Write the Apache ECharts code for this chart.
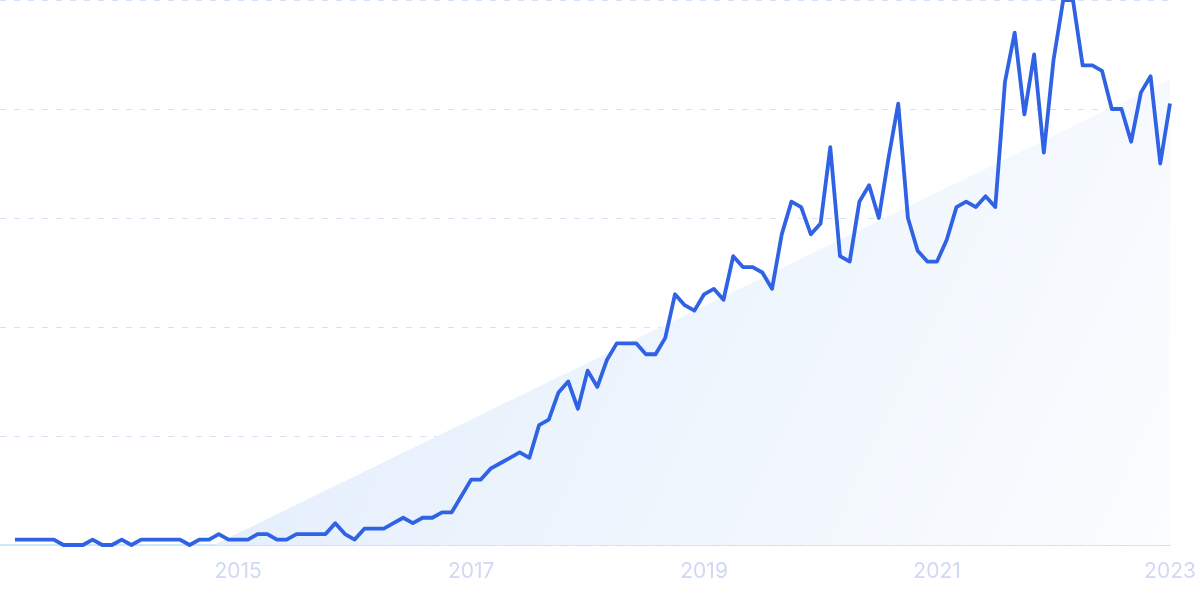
<!DOCTYPE html>
<html>
<head>
<meta charset="utf-8">
<script src="https://cdn.jsdelivr.net/npm/echarts@6/dist/echarts.min.js"></script>
<style>
html,body{margin:0;padding:0;background:#fff;}
#chart{width:1200px;height:599px;}
</style>
</head>
<body>
<div id="chart"></div>
<script>
// Monthly categories, 2013-02 .. 2023-01
var startYear = 2013, startMonth = 2, monthCount = 120;
var months = [];
for (var k = 0; k < monthCount; k++) {
  var mm = startMonth - 1 + k;
  var yy = startYear + Math.floor(mm / 12);
  var mo = (mm % 12) + 1;
  months.push(yy + '-' + (mo < 10 ? '0' + mo : mo));
}

// Search interest values (0-100)
var interest = [
  1, 1, 1, 1, 1, 0, 0, 0, 1, 0, 0, 1,
  0, 1, 1, 1, 1, 1, 0, 1, 1, 2, 1, 1,
  1, 2, 2, 1, 1, 2, 2, 2, 2, 4, 2, 1,
  3, 3, 3, 4, 5, 4, 5, 5, 6, 6, 9, 12,
  12, 14, 15, 16, 17, 16, 22, 23, 28, 30, 25, 32,
  29, 34, 37, 37, 37, 35, 35, 38, 46, 44, 43, 46,
  47, 45, 53, 51, 51, 50, 47, 57, 63, 62, 57, 59,
  73, 53, 52, 63, 66, 60, 71, 81, 60, 54, 52, 52,
  56, 62, 63, 62, 64, 62, 85, 94, 79, 90, 72, 89,
  100, 100, 88, 88, 87, 80, 80, 74, 83, 86, 70, 81
];

// Trend (shaded) — start and end points, in decimal years
var trendYears = [2014.79, 2023.0];
var trendValues = [0, 85.5];

// Tick labels
var yearTicks = [2015, 2017, 2019, 2021, 2023];
var yTicks = [0, 20, 40, 60, 80, 100];

function toYear(s) {
  var p = s.split('-');
  return +p[0] + (+p[1] - 1) / 12;
}

var lineData = months.map(function (m, i) { return [toYear(m), interest[i]]; });
var trendData = trendYears.map(function (x, i) { return [x, trendValues[i]]; });

var chart = echarts.init(document.getElementById('chart'), null, { renderer: 'canvas' });
chart.setOption({
  animation: false,
  backgroundColor: '#ffffff',
  grid: { left: 0, right: 30, top: 0, bottom: 54, containLabel: false },
  xAxis: {
    type: 'value',
    min: 2012.955,
    max: 2023.0,
    splitLine: { show: false },
    axisTick: { show: false },
    axisLine: { show: true, lineStyle: { color: '#c0e2fb', width: 1.5 } },
    axisLabel: {
      customValues: yearTicks,
      formatter: function (v) { return String(Math.round(v)); },
      color: '#cfd9f5',
      fontFamily: 'Inter',
      fontSize: 21,
      margin: 16
    }
  },
  yAxis: {
    type: 'value',
    min: yTicks[0],
    max: yTicks[yTicks.length - 1],
    interval: 20,
    axisLabel: { show: false },
    axisTick: { show: false },
    axisLine: { show: false },
    splitLine: {
      show: true,
      lineStyle: { color: '#d2e2fb', type: [6, 8], width: 1.2 }
    }
  },
  series: [
    {
      type: 'line',
      data: trendData,
      symbol: 'none',
      lineStyle: { width: 0 },
      areaStyle: {
        opacity: 1,
        color: new echarts.graphic.LinearGradient(0, 0, 1, 1, [
          { offset: 0, color: '#e0ecfb' },
          { offset: 1, color: '#fbfdff' }
        ])
      },
      z: 1
    },
    {
      type: 'line',
      data: lineData,
      symbol: 'none',
      smooth: false,
      lineStyle: { color: '#2f62e4', width: 3.8, join: 'round' },
      z: 3
    }
  ]
});
</script>
</body>
</html>
